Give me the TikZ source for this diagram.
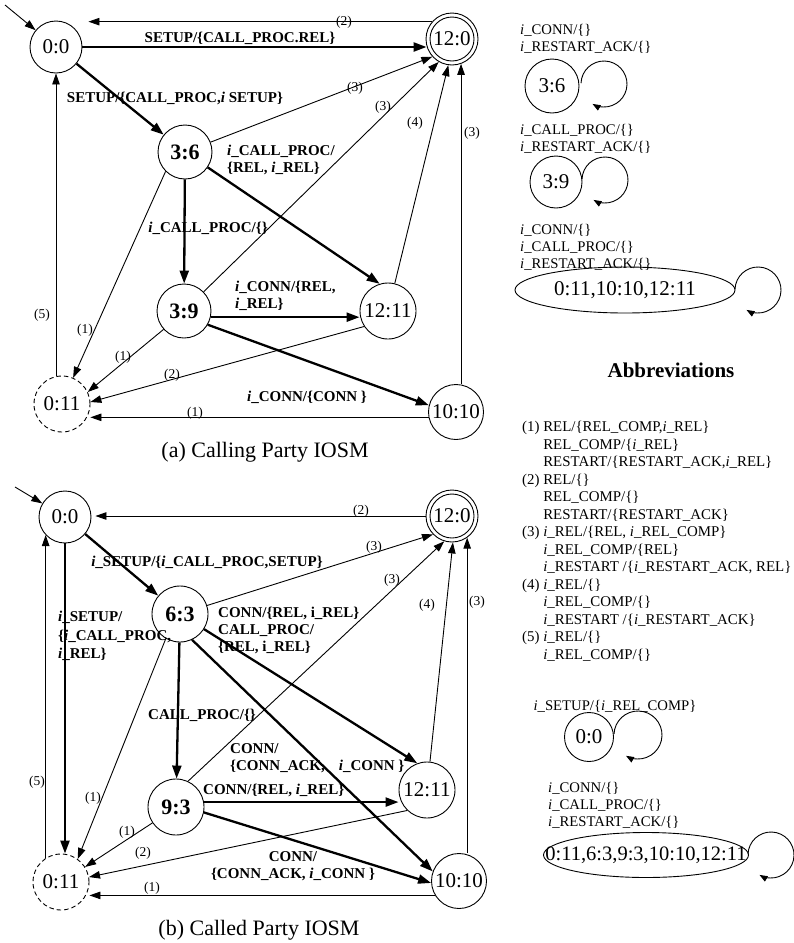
\documentclass[tikz,border=0pt]{standalone}
\usepackage{fontspec}
\setmainfont{Liberation Serif}
\usetikzlibrary{arrows.meta,shapes.geometric,calc}
\newcommand{\itl}{\textit{i}}

\begin{document}
\begin{tikzpicture}[x=1pt,y=-1pt,
  st/.style={circle, draw, line width=0.9pt, minimum size=54pt, inner sep=0pt,
             font=\fontsize{21}{25}\selectfont},
  stb/.style={st, font=\fontsize{22}{26}\selectfont\bfseries},
  dstate/.style={st, dash pattern=on 4.5pt off 3pt},
  elab/.style={font=\fontsize{15}{17}\selectfont\bfseries, inner sep=0pt, align=left},
  nlab/.style={font=\fontsize{13.5}{15}\selectfont, inner sep=0pt},
  txt/.style={font=\fontsize{14.7}{17}\selectfont, inner sep=0pt, align=left},
  captext/.style={font=\fontsize{22}{26}\selectfont, inner sep=0pt},
  thinarr/.style={line width=0.9pt, -{Triangle[length=11pt,width=7.5pt]}},
  thickarr/.style={line width=2.3pt, -{Triangle[length=13pt,width=9pt]}},
  loopc/.style={line width=0.9pt, -{Triangle[length=8pt,width=6pt]}},
  bigell/.style={ellipse, draw, line width=0.9pt, inner sep=0pt,
                 font=\fontsize{21}{25}\selectfont},
]
\fill[white] (0,0) rectangle (793,943);
\useasboundingbox (0,0) rectangle (793,943);

% ---------------- (a) Calling Party IOSM ----------------
\node[st, minimum size=52pt] (A00) at (56,47) {0:0};
\node[st, minimum size=52pt] (A120) at (452,39) {12:0};
\draw[line width=0.9pt] (A120) circle[radius=22pt];
\node[stb] (A36) at (185,152) {3:6};
\node[stb] (A39) at (184,311) {3:9};
\node[st, minimum size=56pt] (A1211) at (388,311) {12:11};
\node[dstate, minimum size=56pt] (A011) at (62,404) {0:11};
\node[st, minimum size=55pt] (A1010) at (456,412) {10:10};

\coordinate (Ai) at (5,5);
\draw[thinarr] (Ai) -- (A00);
\draw[thinarr] (A120.139) -- ([xshift=6pt]A120.139 -| A00.east);
\draw[thickarr] (A00.east) -- (A00.east -| A120.196);
\draw[thickarr] (A00) -- (A36);
\draw[thinarr] (A36) -- (A120.222);
\draw[thinarr] (A39) -- (A120.240);
\draw[thinarr] (A1211) -- (A120.262);
\draw[thinarr] (A120.290 |- A1010.north) -- (A120.290);
\draw[thickarr] (A36) -- (A1211.107);
\draw[thickarr] (A36) -- (A39);
\draw[thinarr] (A36.225) -- (A011.67);
\draw[thickarr] (A39.347) -- (A39.347 -| A1211.west);
\draw[thinarr] (A39.222) -- (A011.25);
\draw[thickarr] (A39.330) -- (A1010.166);
\draw[thinarr] (A1211.213) -- (A011.4);
\draw[thinarr] (A1010.191) -- (A1010.191 -| A011.east);
\draw[thinarr] (A00.south |- A011.north) -- (A00.south);

\node[nlab] (la1) at (344,22) {(2)};
\node[elab] (la2) at (240,38) {SETUP/\{CALL\_PROC.REL\}};
\node[elab] (la3) at (175,98) {SETUP/\{CALL\_PROC,\itl\ SETUP\}};
\node[nlab] (la4) at (355,88) {(3)};
\node[nlab] (la5) at (383,107) {(3)};
\node[nlab] (la6) at (415,123) {(4)};
\node[nlab] (la7) at (472,133) {(3)};
\node[elab, anchor=west] (la8) at (227,160) {\itl\_CALL\_PROC/\\\{REL, \itl\_REL\}};
\node[elab] (la9) at (208,228) {\itl\_CALL\_PROC/\{\}};
\node[elab, anchor=west] (la10) at (235,296) {\itl\_CONN/\{REL,\\\itl\_REL\}};
\node[nlab] (la11) at (42,315) {(5)};
\node[nlab] (la12) at (85,330) {(1)};
\node[nlab] (la13) at (123,357) {(1)};
\node[nlab] (la14) at (172,375) {(2)};
\node[nlab] (la15) at (195,413) {(1)};
\node[elab] (la16) at (307,397) {\itl\_CONN/\{CONN \}};
\node[captext] (capa) at (265,452) {(a) Calling Party IOSM};

% ---------------- (b) Called Party IOSM ----------------
\node[st, minimum size=52pt] (B00) at (65,517) {0:0};
\node[st, minimum size=52pt] (B120) at (452,516) {12:0};
\draw[line width=0.9pt] (B120) circle[radius=22pt];
\node[stb, minimum size=56pt] (B63) at (180,614) {6:3};
\node[stb, minimum size=56pt] (B93) at (176,807) {9:3};
\node[st, minimum size=56pt] (B1211) at (427,790) {12:11};
\node[dstate, minimum size=56pt] (B011) at (61,882) {0:11};
\node[st, minimum size=55pt] (B1010) at (459,881) {10:10};

\coordinate (Bi) at (15,487);
\draw[thinarr] (Bi) -- (B00);
\draw[thinarr] (B120.west) -- ([xshift=4pt]B120.west -| B00.east);
\draw[thickarr] (B00) -- (B63);
\draw[thinarr] (B63) -- (B120.224);
\draw[thinarr] (B93.65) -- (B120.253);
\draw[thinarr] (B1211) -- (B120.272);
\draw[thinarr] (B120.305 |- B1010.north) -- (B120.305);
\draw[thickarr] (B63) -- (B1211.110);
\draw[thickarr] (B63.295) -- (B1010.160);
\draw[thickarr] (B63) -- (B93);
\draw[thinarr] (B63.240) -- (B011.54);
\draw[thickarr] (B00.south) -- (B00.south |- B011.north);
\draw[thinarr] (B00.223 |- B011.122) -- (B00.223);
\draw[thickarr] (B93.10) -- (B93.10 -| B1211.west);
\draw[thinarr] (B93.214) -- (B011.32);
\draw[thinarr] (B1211.226) -- (B011.10);
\draw[thickarr] (B93.349) -- (B1010.184);
\draw[thinarr] (B1010.211) -- (B1010.211 -| B011.east);

\node[nlab] (lb1) at (361,511) {(2)};
\node[elab] (lb2) at (207,562) {\itl\_SETUP/\{\itl\_CALL\_PROC,SETUP\}};
\node[nlab] (lb3) at (374,547) {(3)};
\node[nlab] (lb4) at (392,580) {(3)};
\node[nlab] (lb5) at (427,605) {(4)};
\node[nlab] (lb6) at (477,602) {(3)};
\node[elab, anchor=west] (lb7) at (218,630) {CONN/\{REL, i\_REL\}\\CALL\_PROC/\\\{REL, i\_REL\}};
\node[elab, anchor=west, font=\fontsize{15}{18.5}\selectfont\bfseries] (lb8) at (58,636) {\itl\_SETUP/\\\{\itl\_CALL\_PROC,\\\itl\_REL\}};
\node[elab] (lb9) at (202,715) {CALL\_PROC/\{\}};
\node[elab, anchor=west] (lb10) at (230,758) {CONN/\\\{CONN\_ACK,\hspace{14pt}\itl\_CONN \}};
\node[nlab] (lb11) at (37,782) {(5)};
\node[nlab] (lb12) at (93,798) {(1)};
\node[elab, anchor=west] (lb13) at (203,790) {CONN/\{REL, \itl\_REL\}};
\node[nlab] (lb14) at (127,832) {(1)};
\node[nlab] (lb15) at (143,853) {(2)};
\node[elab, align=center] (lb16) at (293,866) {CONN/\\\{CONN\_ACK, \itl\_CONN \}};
\node[nlab] (lb17) at (152,888) {(1)};
\node[captext] (capb) at (259,930) {(b) Called Party IOSM};

% ---------------- self loops ----------------
\node[txt, anchor=west] (ra1) at (520,38.5) {\itl\_CONN/\{\}\\\itl\_RESTART\_ACK/\{\}};
\node[st, minimum size=54pt] (R36) at (552,86) {3:6};
\coordinate (LA) at (604,84);
\draw[loopc] ([shift={(178:23pt)}]LA) arc[start angle=178, end angle=-120, radius=23pt];

\node[txt, anchor=west] (ra2) at (520,138.5) {\itl\_CALL\_PROC/\{\}\\\itl\_RESTART\_ACK/\{\}};
\node[st, minimum size=52pt] (R39) at (556,182) {3:9};
\coordinate (LB) at (605,180);
\draw[loopc] ([shift={(178:23pt)}]LB) arc[start angle=178, end angle=-120, radius=23pt];

\node[txt, anchor=west] (ra3) at (520,247) {\itl\_CONN/\{\}\\\itl\_CALL\_PROC/\{\}\\\itl\_RESTART\_ACK/\{\}};
\node[bigell, minimum width=220pt, minimum height=46pt] (RE1) at (625,290) {\makebox[0pt]{0:11,10:10,12:11}};
\coordinate (LC) at (758,290);
\draw[loopc] ([shift={(178:23pt)}]LC) arc[start angle=178, end angle=-120, radius=23pt];

\node[txt] (rb1) at (615,706) {\itl\_SETUP/\{\itl\_REL\_COMP\}};
\node[st, minimum size=49pt] (R00) at (589,737) {0:0};
\coordinate (LD) at (638,735);
\draw[loopc] ([shift={(178:24pt)}]LD) arc[start angle=178, end angle=-120, radius=24pt];

\node[txt, anchor=west] (rb2) at (548,805) {\itl\_CONN/\{\}\\\itl\_CALL\_PROC/\{\}\\\itl\_RESTART\_ACK/\{\}};
\node[bigell, minimum width=205pt, minimum height=45pt, font=\fontsize{20.5}{24}\selectfont] (RE2) at (646,855) {\makebox[0pt]{0:11,6:3,9:3,10:10,12:11}};
\coordinate (LE) at (771,855);
\draw[loopc] ([shift={(178:23pt)}]LE) arc[start angle=178, end angle=-120, radius=23pt];

% ---------------- legend ----------------
\node[font=\fontsize{21}{25}\selectfont\bfseries, inner sep=0pt] (abh) at (671,370) {Abbreviations};
\node[anchor=north west, inner sep=0pt, font=\fontsize{14.9}{17.5}\selectfont] (abl) at (522,419.5) {%
\begin{tabular}{@{}l@{\ }l@{}}
(1) & REL/\{REL\_COMP,\itl\_REL\}\\
    & REL\_COMP/\{\itl\_REL\}\\
    & RESTART/\{RESTART\_ACK,\itl\_REL\}\\
(2) & REL/\{\}\\
    & REL\_COMP/\{\}\\
    & RESTART/\{RESTART\_ACK\}\\
(3) & \itl\_REL/\{REL, \itl\_REL\_COMP\}\\
    & \itl\_REL\_COMP/\{REL\}\\
    & \itl\_RESTART /\{\itl\_RESTART\_ACK, REL\}\\
(4) & \itl\_REL/\{\}\\
    & \itl\_REL\_COMP/\{\}\\
    & \itl\_RESTART /\{\itl\_RESTART\_ACK\}\\
(5) & \itl\_REL/\{\}\\
    & \itl\_REL\_COMP/\{\}
\end{tabular}};
\end{tikzpicture}
\end{document}
